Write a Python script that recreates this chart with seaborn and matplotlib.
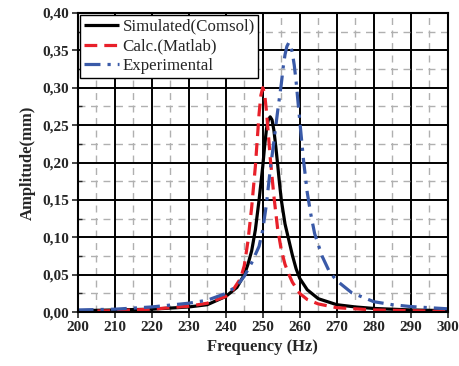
import numpy as np
import pandas as pd
import matplotlib
matplotlib.use("Agg")
import matplotlib.pyplot as plt
from matplotlib.ticker import MultipleLocator, FuncFormatter
import seaborn as sns

# values
freq_sim = [200, 210, 220, 230, 235, 240, 243, 245, 246, 247, 248, 249, 250, 250.5,
            251, 251.5, 252, 252.5, 253, 253.5, 254, 254.5, 255, 256, 257, 258, 259,
            260, 262, 265, 270, 275, 280, 290, 300]
amp_sim = [0.002, 0.003, 0.004, 0.007, 0.010, 0.021, 0.033, 0.050, 0.064, 0.082,
           0.110, 0.150, 0.195, 0.222, 0.245, 0.257, 0.261, 0.257, 0.243, 0.222,
           0.198, 0.173, 0.150, 0.118, 0.097, 0.076, 0.058, 0.045, 0.030, 0.018,
           0.010, 0.007, 0.005, 0.003, 0.002]

freq_calc = [200, 210, 220, 230, 235, 240, 242, 244, 245, 246, 247, 248, 248.5, 249,
             249.5, 250, 250.5, 251, 251.5, 252, 253, 254, 255, 256, 257, 258, 260,
             262, 265, 270, 280, 290, 300]
amp_calc = [0.001, 0.002, 0.004, 0.008, 0.012, 0.021, 0.030, 0.045, 0.062, 0.095,
            0.140, 0.195, 0.230, 0.265, 0.290, 0.300, 0.292, 0.268, 0.238, 0.207,
            0.155, 0.112, 0.083, 0.064, 0.051, 0.040, 0.025, 0.017, 0.011, 0.006,
            0.003, 0.002, 0.001]

freq_exp = [200, 210, 220, 230, 235, 240, 243, 245, 247, 249, 250, 251, 252, 253,
            254, 255, 255.5, 256, 256.5, 257, 257.5, 258, 258.5, 259, 260, 261, 262,
            263, 264, 266, 268, 270, 274, 280, 285, 290, 300]
amp_exp = [0.003, 0.004, 0.007, 0.012, 0.016, 0.025, 0.035, 0.048, 0.066, 0.088,
           0.110, 0.145, 0.190, 0.228, 0.268, 0.305, 0.327, 0.344, 0.355, 0.360,
           0.357, 0.346, 0.330, 0.308, 0.255, 0.203, 0.160, 0.130, 0.105, 0.075,
           0.054, 0.042, 0.026, 0.014, 0.010, 0.0075, 0.0045]

labels = ["Simulated(Comsol)", "Calc.(Matlab)", "Experimental"]
colors = ["black", "#e8202a", "#3a5aa8"]

df = pd.concat([
    pd.DataFrame({"f": freq_sim, "a": amp_sim, "s": labels[0]}),
    pd.DataFrame({"f": freq_calc, "a": amp_calc, "s": labels[1]}),
    pd.DataFrame({"f": freq_exp, "a": amp_exp, "s": labels[2]}),
])

sns.set_style("white")
plt.rcParams["font.family"] = ["Liberation Serif", "DejaVu Serif"]

fig = plt.figure(figsize=(4.59, 3.66), dpi=100)
ax = fig.add_axes([0.169, 0.147, 0.807, 0.818])

sns.lineplot(data=df, x="f", y="a", hue="s", style="s", palette=colors,
             dashes=[(1, 0), (4, 2.2), (5, 2.2, 1.0, 2.2)], linewidth=2.3,
             sort=False, estimator=None, ax=ax)

ax.set_xlim(200, 300)
ax.set_ylim(0, 0.40)
ax.xaxis.set_major_locator(MultipleLocator(10))
ax.xaxis.set_minor_locator(MultipleLocator(5))
ax.yaxis.set_major_locator(MultipleLocator(0.05))
ax.yaxis.set_minor_locator(MultipleLocator(0.025))
ax.yaxis.set_major_formatter(FuncFormatter(lambda v, p: f"{v:.2f}".replace(".", ",")))

ax.grid(which="major", color="black", linewidth=1.4, linestyle="-")
ax.grid(which="minor", color="#b0b0b0", linewidth=1.0, linestyle=(0, (5, 4)))
ax.set_axisbelow(True)

for sp in ax.spines.values():
    sp.set_color("black")
    sp.set_linewidth(1.5)

ax.tick_params(axis="both", which="major", direction="out", length=4, width=1.2,
               labelsize=11, bottom=True, left=True, pad=2)
ax.tick_params(axis="y", which="minor", direction="in", length=3, width=1.0, left=True)
for t in ax.get_xticklabels() + ax.get_yticklabels():
    t.set_fontweight("bold")

ax.set_xlabel("Frequency (Hz)", fontsize=12, fontweight="bold", labelpad=4)
ax.set_ylabel("Amplitude(mm)", fontsize=12, fontweight="bold", labelpad=5)

handles, _ = ax.get_legend_handles_labels()
leg = ax.legend(handles=handles, labels=labels, loc="upper left",
                bbox_to_anchor=(0.0, 1.0), fontsize=12.2, frameon=True,
                fancybox=False, edgecolor="black", framealpha=1,
                handlelength=2.1, handletextpad=0.2, borderpad=0.2,
                labelspacing=0.22, borderaxespad=0.15)
leg.get_frame().set_linewidth(1.0)

fig.savefig("out.png", dpi=100)
